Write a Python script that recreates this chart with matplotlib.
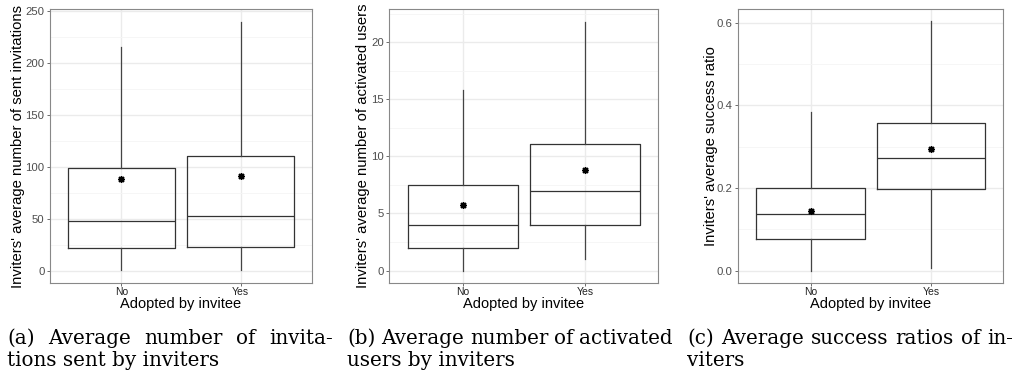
import matplotlib
matplotlib.use("Agg")
import matplotlib.pyplot as plt
from matplotlib.ticker import MultipleLocator

# categories on x
groups = ["No", "Yes"]

# box stats: whislo, q1, med, q3, whishi, mean
sent_lo = [1, 1]
sent_q1 = [22, 23]
sent_med = [48, 53]
sent_q3 = [99, 110]
sent_hi = [215, 239.5]
sent_mean = [88.5, 91]

act_lo = [0, 1.0]
act_q1 = [2.0, 4.0]
act_med = [4.0, 7.0]
act_q3 = [7.5, 11.1]
act_hi = [15.8, 21.8]
act_mean = [5.7, 8.8]

ratio_lo = [0.0, 0.0065]
ratio_q1 = [0.076, 0.197]
ratio_med = [0.137, 0.272]
ratio_q3 = [0.199, 0.358]
ratio_hi = [0.383, 0.603]
ratio_mean = [0.144, 0.294]

ylabels = ["Inviters' average number of sent invitations",
           "Inviters' average number of activated users",
           "Inviters' average success ratio"]
captions = [("(a) Average number of invita-", "tions sent by inviters"),
            ("(b) Average number of activated", "users by inviters"),
            ("(c) Average success ratios of in-", "viters")]

panels = [
    (sent_lo, sent_q1, sent_med, sent_q3, sent_hi, sent_mean, (-12, 252), 50, 25, "%d"),
    (act_lo, act_q1, act_med, act_q3, act_hi, act_mean, (-1.09, 22.9), 5, 2.5, "%d"),
    (ratio_lo, ratio_q1, ratio_med, ratio_q3, ratio_hi, ratio_mean, (-0.030, 0.633), 0.2, 0.1, "%.1f"),
]

W, H = 1022, 375
# axes boxes in pixels: left, right (top 9, bottom 283)
boxes_px = [(50, 312), (389.3, 658.3), (738.3, 1003.3)]
ylab_x = [18, 363, 711]
cap_px = [(7, 333), (347, 673), (687, 1013)]

fig = plt.figure(figsize=(W / 100, H / 100), dpi=100)
plt.rcParams["font.family"] = ["Liberation Sans", "DejaVu Sans"]

axes = []
for i, p in enumerate(panels):
    lo, q1, med, q3, hi, mean, ylim, major, minor, fmt = p
    l, r = boxes_px[i]
    ax = fig.add_axes([l / W, 1 - 283 / H, (r - l) / W, (283 - 9) / H])
    stats = []
    for j in range(2):
        stats.append(dict(whislo=lo[j], q1=q1[j], med=med[j], q3=q3[j],
                          whishi=hi[j], mean=mean[j], fliers=[]))
    ax.bxp(stats, positions=[1, 2], widths=0.9, showmeans=True, showcaps=False,
           boxprops=dict(color="#333333", linewidth=0.9),
           whiskerprops=dict(color="#444444", linewidth=0.9),
           medianprops=dict(color="#333333", linewidth=0.9),
           meanprops=dict(marker=(8, 2, 0), markeredgecolor="black",
                          markerfacecolor="black", markersize=5, markeredgewidth=1.0))
    ax.set_xlim(0.4, 2.6)
    ax.set_ylim(*ylim)
    ax.set_xticks([1, 2])
    ax.set_xticklabels(groups)
    ax.yaxis.set_major_locator(MultipleLocator(major))
    ax.yaxis.set_minor_locator(MultipleLocator(minor))
    ax.yaxis.set_major_formatter(plt.FormatStrFormatter(fmt))
    ax.grid(True, which="major", color="#EBEBEB", linewidth=1.0)
    ax.grid(True, which="minor", axis="y", color="#F5F5F5", linewidth=0.6)
    ax.set_axisbelow(True)
    for s in ax.spines.values():
        s.set_color("#888888")
        s.set_linewidth(0.8)
    ax.tick_params(axis="both", which="major", length=2.5, width=0.6, color="#555555",
                   labelsize=8.2, labelcolor="#4D4D4D", pad=1.5)
    ax.tick_params(axis="x", labelsize=7.5, labelcolor="#222222", pad=0.5)
    ax.tick_params(which="minor", length=0)
    ax.set_xlabel("Adopted by invitee", fontsize=10.5, labelpad=0)
    fig.text(ylab_x[i] / W, (1 - 146 / H), ylabels[i], rotation=90, fontsize=10.7,
             ha="center", va="center")
    axes.append(ax)

# captions, first line justified across the column
fig.canvas.draw()
renderer = fig.canvas.get_renderer()
cap_font = dict(family="DejaVu Serif", fontsize=14.3, color="black")
for i, (line1, line2) in enumerate(captions):
    l, r = cap_px[i]
    words = line1.split(" ")
    objs = [fig.text(0, 1 - 344 / H, w, va="baseline", ha="left", **cap_font) for w in words]
    widths = [o.get_window_extent(renderer).width for o in objs]
    gap = (r - l - sum(widths)) / (len(words) - 1)
    x = l
    for o, w in zip(objs, widths):
        o.set_x(x / W)
        x += w + gap
    fig.text(l / W, 1 - 366 / H, line2, va="baseline", ha="left", **cap_font)

fig.savefig("out.png", dpi=100)
